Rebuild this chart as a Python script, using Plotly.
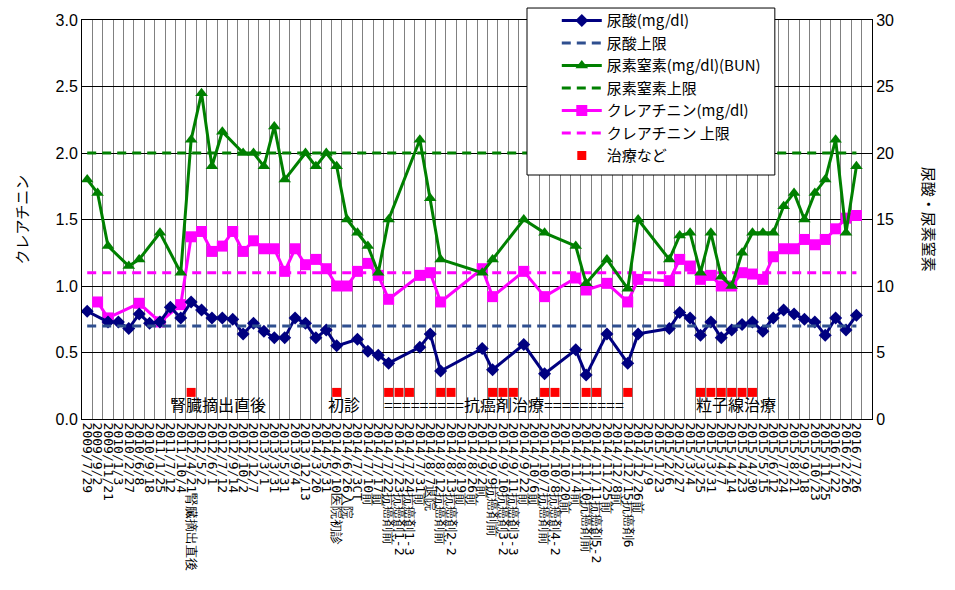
import plotly.graph_objects as go

# ---------------- data ----------------
dates = [
    "2009/7/29", "2009/9/2", "2009/11/21", "2010/1/3", "2010/2/27", "2010/6/8",
    "2010/9/18", "2011/1/25", "2011/7/12", "2011/10/4", "2012/4/21腎臓摘出直後",
    "2012/5/2", "2012/6/1", "2012/7/12", "2012/9/14", "2012/10/2", "2012/12/7",
    "2013/3/1", "2013/3/31", "2013/5/31", "2013/9/4", "2013/12/13", "2014/3/20",
    "2014/5/31", "2014/6/10医院初診", "2014/6/26入院", "2014/7/3CT", "2014/7/10前",
    "2014/7/17前", "2014/7/22抗癌剤前", "2014/7/23抗癌剤1-2", "2014/7/24抗癌剤1-3",
    "2014/7/31前", "2014/8/7退院", "2014/8/12抗癌剤前", "2014/8/13抗癌剤2-2",
    "2014/8/19前", "2014/8/26前", "2014/9/2前", "2014/9/9抗癌剤前",
    "2014/9/10抗癌剤3-2", "2014/9/11抗癌剤3-3", "2014/9/22前", "2014/10/6前",
    "2014/10/7抗癌剤前", "2014/10/8抗癌剤4-2", "2014/10/20前", "2014/11/4前",
    "2014/11/10抗癌剤前", "2014/11/11抗癌剤5-2", "2014/11/25前", "2014/12/8前",
    "2014/12/15抗癌剤6", "2014/12/26前", "2015/1/9", "2015/1/23", "2015/2/6",
    "2015/2/27", "2015/3/4", "2015/3/25", "2015/3/31", "2015/4/7", "2015/4/14",
    "2015/4/23", "2015/4/30", "2015/5/15", "2015/6/12", "2015/7/24", "2015/8/21",
    "2015/9/18", "2015/10/23", "2015/11/25", "2016/1/22", "2016/2/26", "2016/7/26",
    " ",
]

N = None
uric = [8.1, N, 7.3, 7.3, 6.8, 7.9, 7.2, 7.3, 8.4, 7.6,
        8.8, 8.2, 7.6, 7.6, 7.5, 6.4, 7.2, 6.6, 6.1, 6.1,
        7.6, 7.2, 6.1, 6.7, 5.5, N, 6.0, 5.1, 4.8, 4.2,
        N, N, 5.4, 6.4, 3.6, N, N, N, 5.3, 3.7,
        N, N, 5.6, N, 3.4, N, N, 5.2, 3.3, N,
        6.4, N, 4.2, 6.4, N, N, 6.8, 8.0, 7.6, 6.3,
        7.3, 6.1, 6.7, 7.1, 7.3, 6.6, 7.6, 8.2, 7.9, 7.5,
        7.3, 6.3, 7.6, 6.7, 7.8, N]

bun = [18.0, 17.0, 13.0, N, 11.5, 12.0, N, 14.0, N, 11.0,
       21.0, 24.5, 19.0, 21.6, N, 20.0, 20.0, 19.0, 22.0, 18.0,
       N, 20.0, 19.0, 20.0, 19.0, 15.0, 14.0, 13.0, 11.0, 15.0,
       N, N, 21.0, 16.6, 12.0, N, N, N, 11.0, 12.0,
       N, N, 15.0, N, 14.0, N, N, 13.0, 10.2, N,
       12.0, N, 9.8, 15.0, N, N, 12.0, 13.8, 14.0, 11.0,
       14.0, 10.7, 10.0, 12.5, 14.0, 14.0, 14.0, 16.0, 17.0, 15.0,
       17.0, 18.0, 21.0, 14.0, 19.0, N]

crea = [N, 0.88, 0.76, N, N, 0.87, N, 0.73, N, 0.86,
        1.37, 1.41, 1.26, 1.30, 1.41, 1.26, 1.34, 1.28, 1.28, 1.11,
        1.28, 1.16, 1.20, 1.13, 1.00, 1.00, 1.11, 1.17, 1.08, 0.90,
        N, N, 1.08, 1.10, 0.88, N, N, N, 1.13, 0.92,
        N, N, 1.11, N, 0.92, N, N, 1.06, 0.97, N,
        1.02, N, 0.88, 1.05, N, N, 1.04, 1.20, 1.15, 1.05,
        1.08, 1.00, 1.00, 1.10, 1.09, 1.05, 1.22, 1.28, 1.28, 1.35,
        1.31, 1.35, 1.43, 1.51, 1.53, N]

uric_limit = [7.0] * 75 + [N]
bun_limit = [20.0] * 75 + [N]
crea_limit = [1.1] * 75 + [N]

treat = [N, N, N, N, N, N, N, N, N, N,
         2, N, N, N, N, N, N, N, N, N,
         N, N, N, N, 2, N, N, N, N, 2,
         2, 2, N, N, 2, 2, N, N, N, 2,
         2, 2, N, N, 2, 2, N, N, 2, 2,
         N, N, 2, N, N, N, N, N, N, 2,
         2, 2, 2, 2, 2, N, N, N, N, N,
         N, N, N, N, N, N]

notes = [
    ("腎臓摘出直後", 10, 27),
    ("初診", 24, 7),
    ("=========抗癌剤治療=========", 40, 1),
    ("粒子線治療", 62, 4),
]

# ---------------- figure ----------------
fig = go.Figure()

def add(name, y, axis, color, dash=None, symbol=None, size=10, group=""):
    if symbol is None:
        fig.add_trace(go.Scatter(
            x=dates, y=y, name=name, yaxis=axis, mode="lines", legendgroup=group,
            line=dict(color=color, width=3, dash=dash)))
    else:
        fig.add_trace(go.Scatter(
            x=dates, y=y, name=name, yaxis=axis, mode="lines+markers",
            connectgaps=True, legendgroup=group,
            line=dict(color=color, width=3),
            marker=dict(symbol=symbol, size=size, color=color)))

add("尿酸(mg/dl)", uric, "y2", "#000080", symbol="diamond", size=10, group="a")
add("尿酸上限", uric_limit, "y2", "#2F4F8F", dash="9px,6px", group="b")
add("尿素窒素(mg/dl)(BUN)", bun, "y2", "#008000", symbol="triangle-up", size=11, group="c")
add("尿素窒素上限", bun_limit, "y2", "#008000", dash="9px,6px", group="d")
add("クレアチニン(mg/dl)", crea, "y", "#FF00FF", symbol="square", size=11, group="e")
add("クレアチニン 上限", crea_limit, "y", "#FF00FF", dash="9px,6px", group="f")
fig.add_trace(go.Scatter(
    x=dates, y=treat, name="治療など", yaxis="y2", mode="markers", legendgroup="g",
    marker=dict(symbol="square", size=9, color="#FF0000")))

for text, idx, shift in notes:
    fig.add_annotation(x=dates[idx], y=0, xref="x", yref="y", xshift=shift,
                       yanchor="bottom", yshift=1, showarrow=False, text=text,
                       font=dict(family="Noto Sans CJK JP", size=16, color="black"))

fig.add_annotation(text="クレアチニン", xref="paper", yref="paper", x=-0.076, y=0.5,
                   textangle=-90, showarrow=False, xanchor="center",
                   font=dict(family="Noto Sans CJK JP", size=15, color="black"))
fig.add_annotation(text="尿酸・尿素窒素", xref="paper", yref="paper", x=1.073, y=0.5,
                   textangle=90, showarrow=False, xanchor="center",
                   font=dict(family="Noto Sans CJK JP", size=15, color="black"))

# legend frame (white box with black border)
fig.add_shape(type="rect", xref="paper", yref="paper",
              x0=0.5633, x1=0.877, y0=0.6115, y1=1.030,
              line=dict(color="black", width=1), fillcolor="white", layer="above")

fig.update_layout(
    width=955, height=590,
    margin=dict(l=82, r=83, t=20, b=171, autoexpand=False),
    paper_bgcolor="white", plot_bgcolor="white",
    showlegend=True,
    legend=dict(x=0.601, y=1.0395, xanchor="left", yanchor="top",
                bgcolor="rgba(0,0,0,0)", borderwidth=0,
                font=dict(family="Noto Sans CJK JP", size=15, color="black"),
                itemwidth=40, tracegroupgap=5, traceorder="normal"),
    xaxis=dict(type="category", categoryorder="array", categoryarray=dates,
               range=[-0.5, 75.5], tickson="boundaries", showgrid=True,
               tickmode="linear", tick0=0, dtick=1,
               gridcolor="#808080", gridwidth=1, ticks="", tickangle=90,
               tickfont=dict(family="DejaVu Sans Mono", size=13, color="black"),
               showline=True, linecolor="black", linewidth=1, mirror=True,
               automargin=False),
    yaxis=dict(range=[0, 3], dtick=0.5, tickformat=".1f", showgrid=True,
               gridcolor="black", gridwidth=1, zeroline=False,
               showline=True, linecolor="black", linewidth=1, ticks="",
               tickfont=dict(family="Liberation Sans", size=16, color="black"),
               automargin=False),
    yaxis2=dict(range=[0, 30], dtick=5, overlaying="y", side="right",
                showgrid=False, zeroline=False, showline=True,
                linecolor="black", linewidth=1, ticks="",
                tickfont=dict(family="Liberation Sans", size=16, color="black"),
                automargin=False),
)

fig.write_html("out.html")
